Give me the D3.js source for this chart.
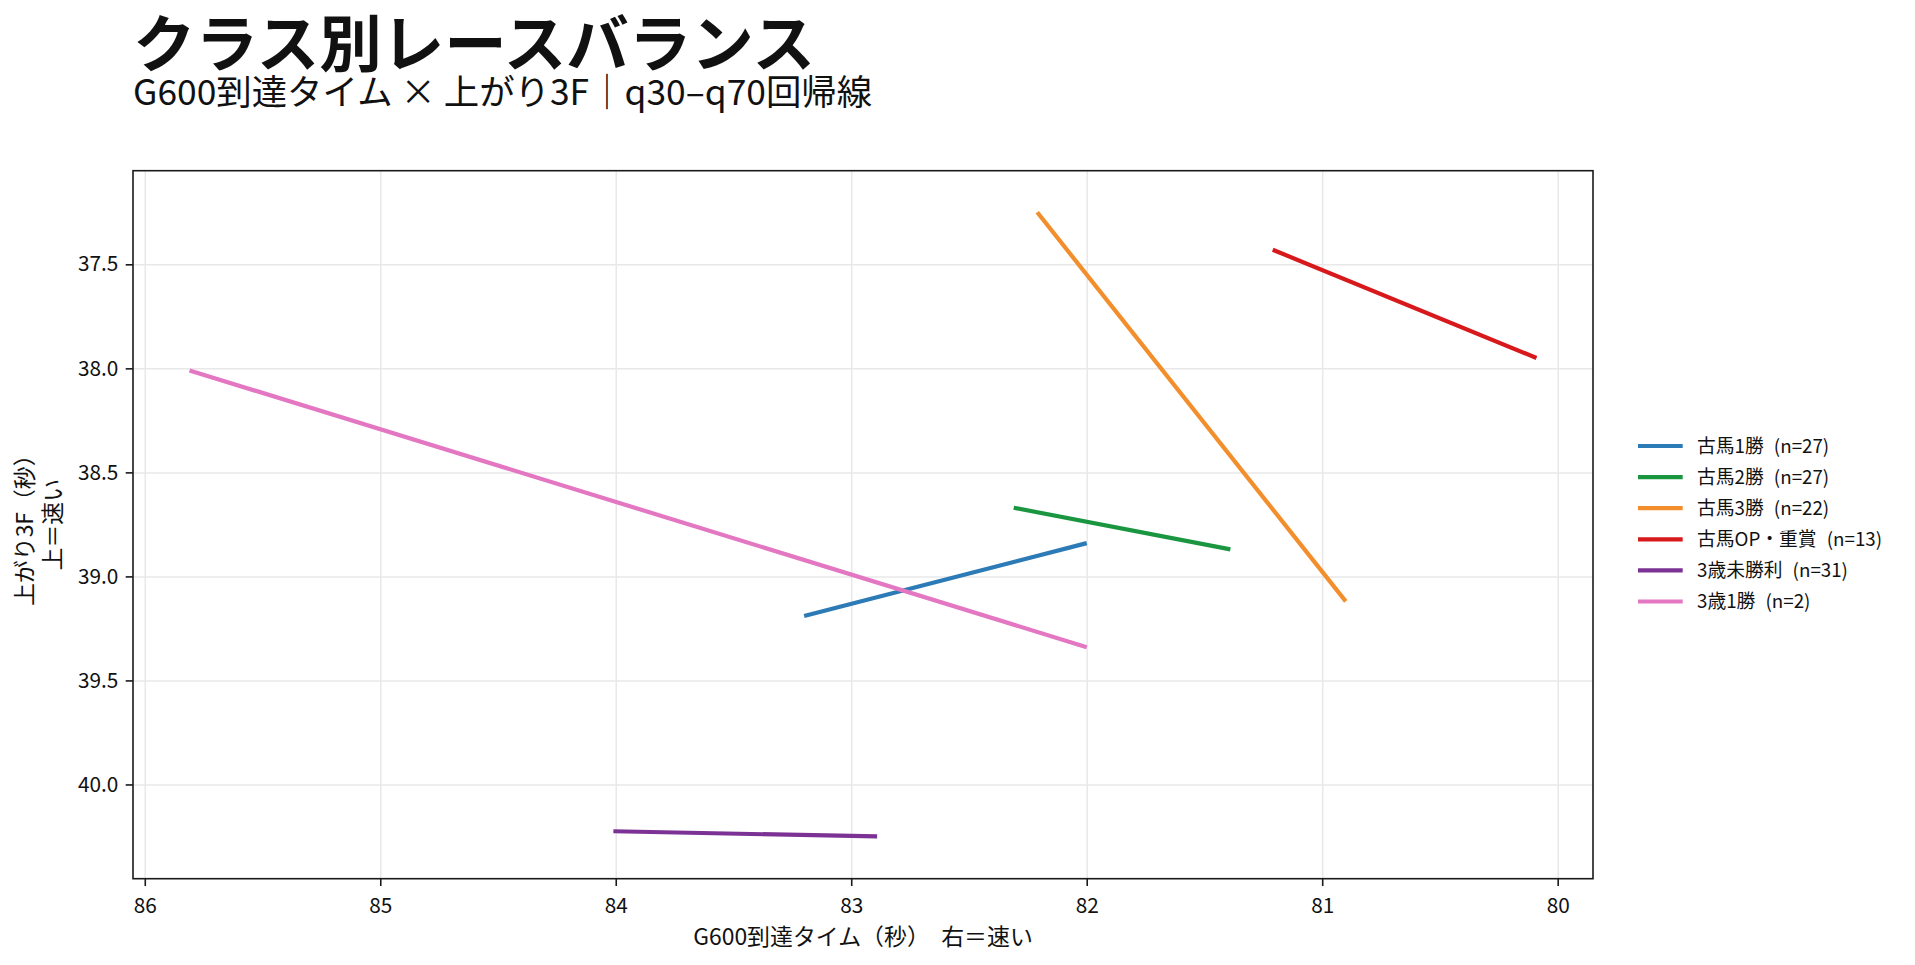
<!DOCTYPE html>
<html>
<head>
<meta charset="utf-8">
<script src="https://cdn.jsdelivr.net/npm/d3@7"></script>
<style>
  body { margin: 0; background: white; }
  text { font-family: "Noto Sans CJK JP", "Noto Sans", sans-serif; fill: #111; }
</style>
</head>
<body>
<div id="chart"></div>
<script>
// chart values
var classNames = ["古馬1勝", "古馬2勝", "古馬3勝", "古馬OP・重賞", "3歳未勝利", "3歳1勝"];
var sampleCounts = [27, 27, 22, 13, 31, 2];
var g600Start = [83.20, 82.31, 82.21, 81.21, 84.01, 85.81];
var g600End = [82.00, 81.39, 80.90, 80.09, 82.89, 82.00];
var agariStart = [39.19, 38.67, 37.25, 37.43, 40.225, 38.01];
var agariEnd = [38.84, 38.87, 39.12, 37.95, 40.25, 39.34];
var xTicks = [86, 85, 84, 83, 82, 81, 80];
var yTicks = [37.5, 38.0, 38.5, 39.0, 39.5, 40.0];

var lineColors = ["#2c7bb6", "#1a9641", "#f28e2b", "#d7191c", "#7b3294", "#e377c2"];

var svgWidth = 1915;
var svgHeight = 965;

var margin = { top: 170.7, right: 322, bottom: 86.3, left: 133 };
var width = svgWidth - margin.left - margin.right;
var height = svgHeight - margin.top - margin.bottom;

var svg = d3.select("#chart")
  .append("svg")
  .attr("width", svgWidth)
  .attr("height", svgHeight)
  .style("background", "white");

// title + subtitle
svg.append("text")
  .attr("x", 133)
  .attr("y", 67)
  .attr("font-size", "62.5px")
  .attr("font-weight", "bold")
  .text("クラス別レースバランス");

svg.append("text")
  .attr("x", 133)
  .attr("y", 105)
  .attr("font-size", "35.4px")
  .text("G600到達タイム × 上がり3F｜q30–q70回帰線");

var chartGroup = svg.append("g")
  .attr("transform", `translate(${margin.left}, ${margin.top})`);

// scales (x reversed: right = faster)
var xScale = d3.scaleLinear()
  .domain([86.05, 79.85])
  .range([0, width]);

var yScale = d3.scaleLinear()
  .domain([37.05, 40.453])
  .range([0, height]);

// grid
chartGroup.append("g")
  .attr("class", "grid")
  .attr("transform", `translate(0, ${height})`)
  .call(d3.axisBottom(xScale).tickValues(xTicks).tickSize(-height).tickFormat(""))
  .call(g => g.select(".domain").remove());

chartGroup.append("g")
  .attr("class", "grid")
  .call(d3.axisLeft(yScale).tickValues(yTicks).tickSize(-width).tickFormat(""))
  .call(g => g.select(".domain").remove());

chartGroup.selectAll(".grid line")
  .attr("stroke", "#e8e8e8")
  .attr("stroke-width", 1.5);

// axes
var bottomAxis = d3.axisBottom(xScale)
  .tickValues(xTicks)
  .tickFormat(d3.format("d"))
  .tickSize(7.3)
  .tickSizeOuter(0);

var leftAxis = d3.axisLeft(yScale)
  .tickValues(yTicks)
  .tickFormat(d3.format(".1f"))
  .tickSize(7.3)
  .tickSizeOuter(0)
  .tickPadding(7.3);

var xAxisG = chartGroup.append("g")
  .attr("transform", `translate(0, ${height})`)
  .call(bottomAxis);
xAxisG.selectAll("text").attr("y", 34).attr("dy", "0");

var yAxisG = chartGroup.append("g")
  .call(leftAxis);

[xAxisG, yAxisG].forEach(function(g) {
  g.select(".domain").remove();
  g.selectAll("line").attr("stroke", "#1a1a1a").attr("stroke-width", 1.6);
  g.selectAll("text")
    .attr("font-size", "20.8px")
    .attr("font-family", "'Noto Sans CJK JP', sans-serif")
    .attr("fill", "#111");
});

// regression lines
var segs = classNames.map(function(name, i) {
  return { name: name, n: sampleCounts[i], color: lineColors[i],
           x1: g600Start[i], x2: g600End[i], y1: agariStart[i], y2: agariEnd[i] };
});

chartGroup.selectAll(".reg")
  .data(segs)
  .enter()
  .append("line")
  .attr("class", "reg")
  .attr("x1", d => xScale(d.x1))
  .attr("x2", d => xScale(d.x2))
  .attr("y1", d => yScale(d.y1))
  .attr("y2", d => yScale(d.y2))
  .attr("stroke", d => d.color)
  .attr("stroke-width", 4.2);

// frame
chartGroup.append("rect")
  .attr("width", width)
  .attr("height", height)
  .attr("fill", "none")
  .attr("stroke", "#1a1a1a")
  .attr("stroke-width", 1.6);

// axis labels
svg.append("text")
  .attr("x", margin.left + width / 2)
  .attr("y", 945)
  .attr("text-anchor", "middle")
  .attr("font-size", "22.9px")
  .text("G600到達タイム（秒）　右＝速い");

var yLabelMid = margin.top + height / 2;
svg.append("text")
  .attr("transform", `translate(33, ${yLabelMid}) rotate(-90)`)
  .attr("text-anchor", "middle")
  .attr("font-size", "22.9px")
  .text("上がり3F（秒）");
svg.append("text")
  .attr("transform", `translate(61, ${yLabelMid}) rotate(-90)`)
  .attr("text-anchor", "middle")
  .attr("font-size", "22.9px")
  .text("上＝速い");

// legend
var legend = svg.append("g")
  .attr("transform", "translate(1638, 446)");

var rows = legend.selectAll("g")
  .data(segs)
  .enter()
  .append("g")
  .attr("transform", (d, i) => `translate(0, ${i * 31.1})`);

rows.append("line")
  .attr("x1", 0)
  .attr("x2", 44.7)
  .attr("stroke", d => d.color)
  .attr("stroke-width", 4.2);

var labels = rows.append("text")
  .attr("x", 59)
  .attr("dy", "0.35em")
  .attr("font-size", "18.75px");
labels.append("tspan").text(d => d.name);
labels.append("tspan").attr("dx", 6).text(d => ` (n=${d.n})`);
</script>
</body>
</html>
